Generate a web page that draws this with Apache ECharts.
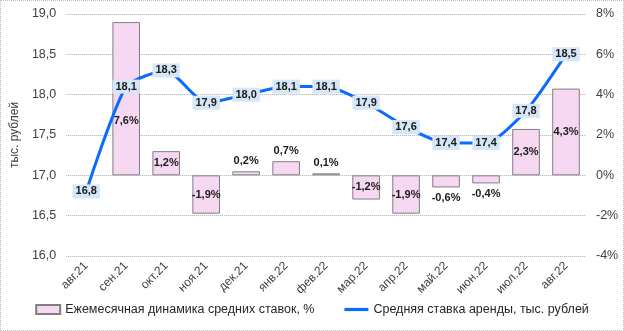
<!DOCTYPE html>
<html><head><meta charset="utf-8">
<script src="https://cdn.jsdelivr.net/npm/echarts@6/dist/echarts.min.js"></script>
<style>html,body{margin:0;padding:0;background:#fff}#c{width:624px;height:331px;box-sizing:border-box;border:1px dotted #bbb}</style>
</head><body><div id="c"></div>
<script>
var categories = ['авг.21','сен.21','окт.21','ноя.21','дек.21','янв.22','фев.22','мар.22','апр.22','май.22','июн.22','июл.22','авг.22'];
var monthlyChange = [null, 7.6, 1.2, -1.9, 0.2, 0.7, 0.1, -1.2, -1.9, -0.6, -0.4, 2.3, 4.3];
var avgRate = [16.8, 18.1, 18.3, 17.9, 18.0, 18.1, 18.1, 17.9, 17.6, 17.4, 17.4, 17.8, 18.5];
var barName = 'Ежемесячная динамика средних ставок, %';
var lineName = 'Средняя ставка аренды, тыс. рублей';

function comma(v, d){ return v.toFixed(d).replace('.', ','); }

var barData = monthlyChange.map(function(v){
  if (v === null) return null;
  var pos = 'inside', off = [0,0];
  if (v > 0 && v < 1) pos = 'top';
  else if (v < 0 && v > -1) pos = 'bottom';
  if (v > 6) off = [0, 22];
  return {value: v, label: {position: pos, offset: off}};
});

var chart = echarts.init(document.getElementById('c'));
var font = 'Liberation Sans, Arial, sans-serif';
var blue = '#0a6cff';
chart.setOption({
  animation: false,
  textStyle: {fontFamily: font},
  grid: {left: 60, right: 37, top: 13, bottom: 74},
  legend: {
    bottom: 9, left: 'center', itemGap: 30, itemWidth: 24, itemHeight: 9,
    textStyle: {fontSize: 12.5, color: '#262626', fontFamily: font},
    data: [{name: barName, icon: 'rect'},
           {name: lineName, icon: 'path://M0,0h30v4h-30z', itemStyle: {color: blue, opacity: 1}}]
  },
  xAxis: {
    type: 'category', data: categories,
    axisLine: {show: false}, axisTick: {show: false},
    axisLabel: {rotate: 45, fontSize: 12, color: '#404040', margin: 8, interval: 0}
  },
  yAxis: [{
    type: 'value', min: 16, max: 19, interval: 0.5,
    name: 'тыс. рублей', nameLocation: 'middle', nameGap: 44, nameRotate: 90,
    nameTextStyle: {fontSize: 12, color: '#404040'},
    axisLabel: {fontSize: 12.5, color: '#404040', margin: 10, formatter: function(v){return comma(v,1);}},
    axisLine: {show: false}, axisTick: {show: false},
    splitLine: {lineStyle: {type: 'dotted', color: '#aaa'}}
  }, {
    type: 'value', min: -4, max: 8, interval: 2,
    axisLabel: {fontSize: 12.5, color: '#404040', margin: 10, formatter: function(v){return v + '%';}},
    axisLine: {show: false}, axisTick: {show: false},
    splitLine: {show: false}
  }],
  series: [{
    name: barName, type: 'bar', yAxisIndex: 1, data: barData, barWidth: '69%',
    itemStyle: {color: '#f6d8f2', borderColor: '#7f7f7f', borderWidth: 1},
    label: {show: true, fontSize: 11, fontWeight: 'bold', color: '#1a1a1a',
      formatter: function(p){ return comma(p.value,1) + '%'; }},
    z: 2
  }, {
    name: lineName, type: 'line', yAxisIndex: 0, data: avgRate, smooth: 0.2,
    symbol: 'circle', symbolSize: 2, showSymbol: true,
    lineStyle: {color: blue, width: 3}, itemStyle: {color: blue},
    label: {show: true, position: 'inside', fontSize: 11, fontWeight: 'bold', color: '#1a1a1a',
      backgroundColor: '#d5e6f8', padding: [2,3,1,3],
      formatter: function(p){ return comma(p.value,1); }},
    labelLayout: {hideOverlap: false},
    z: 3
  }]
});
</script></body></html>
